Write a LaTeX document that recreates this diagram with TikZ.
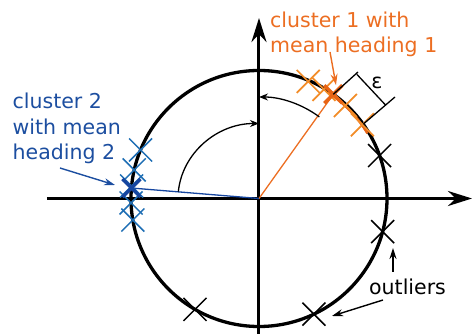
\documentclass[tikz,border=0pt]{standalone}
\usepackage{fontspec}
\setmainfont{DejaVu Sans}
\usetikzlibrary{arrows.meta}
\definecolor{orTxt}{RGB}{236,110,34}
\definecolor{orX}{RGB}{242,140,40}
\definecolor{orMean}{RGB}{232,100,20}
\definecolor{blTxt}{RGB}{28,78,160}
\definecolor{blX}{RGB}{30,110,180}
\definecolor{blMean}{RGB}{22,70,160}
\begin{document}
\begin{tikzpicture}[x=1pt,y=1pt,
  axisline/.style={line width=3pt,-{Stealth[length=24pt,width=15pt]}},
  circ/.style={line width=3.3pt},
  anglearrow/.style={line width=1.3pt,-{Stealth[length=9pt,width=7pt]}},
  callout/.style={line width=1.4pt,-{Stealth[length=11pt,width=7pt]}},
  lbl/.style={font=\fontsize{20.5}{25.7}\selectfont,align=left,inner sep=0pt},
  xm/.pic={\draw[pic actions] (-11.5,-11.5)--(11.5,11.5) (-11.5,11.5)--(11.5,-11.5);},
  xmean/.pic={\draw[pic actions] (-9,-9)--(9,9) (-9,9)--(9,-9);}
]
\useasboundingbox (-259,-135.5) rectangle (215,198.5);
\coordinate (O) at (0,0);
% axes
\coordinate (xl) at (-212,0);
\coordinate (xr) at (213,0);
\coordinate (yb) at (0,-136);
\coordinate (yt) at (0,180.5);
\draw[axisline] (xl) -- (xr);
\draw[axisline] (yb) -- (yt);
% circle
\draw[circ] (O) circle[radius=128];
% orange range arc
\draw[orMean,line width=2.4pt] (57:126.5) arc[start angle=57,end angle=31,radius=126.5];
% mean lines
\coordinate (M1) at (54.5:128);
\coordinate (M2) at (175.3:128);
\draw[orTxt,line width=1.3pt] (O) -- (M1);
\draw[blMean,line width=1.3pt] (O) -- (M2);
% angle arcs
\draw[anglearrow] (53.5:101.5) arc[start angle=53.5,end angle=90,radius=101.5];
\draw[anglearrow] (174.7:81 and 75) arc[start angle=174.7,end angle=90,x radius=81,y radius=75];
% blue crosses
\foreach \a in {157.7,167.1,174.4,182,189.7}
  \pic[blX,line width=1.5pt] at (\a:128) {xm};
\pic[blMean,line width=3.4pt] at (M2) {xmean};
% orange crosses
\foreach \a in {67.2,59.2,47.1,35.5}
  \pic[orX,line width=1.7pt] at (\a:127) {xm};
\pic[orMean,line width=3.4pt] at (M1) {xmean};
% outliers
\foreach \a in {19.6,-15,-64.6,-120}
  \pic[black,line width=1.5pt] at (\a:128) {xm};
% epsilon bracket
\coordinate (F) at (35.5:128);
\coordinate (e1) at (99,126.5);
\coordinate (e2) at (136,101.5);
\coordinate (c1) at (98,124);
\coordinate (c2) at (127,93);
\draw[line width=1.3pt] (M1) -- (e1) (F) -- (e2) (c1) -- (c2);
\node[lbl,anchor=base] (eps) at (118,109.5) {ε};
% labels (base anchor = baseline of last line)
\node[lbl,text=orTxt,anchor=base west] (lab1) at (11,145.5) {cluster 1 with\\mean heading 1};
\node[lbl,text=blTxt,anchor=base west] (lab2) at (-246.5,38.5) {cluster 2\\with mean\\heading 2};
\node[lbl,anchor=base west] (lab3) at (110,-96.5) {outliers};
% callouts
\coordinate (a1s) at (71,146.5);
\coordinate (a1e) at (77,113.5);
\draw[callout,orTxt] (a1s) -- (a1e);
\coordinate (a2s) at (-199,30.5);
\coordinate (a2e) at (-144,13.5);
\draw[callout,blTxt] (a2s) -- (a2e);
\coordinate (a3s) at (134,-73.5);
\coordinate (a3e) at (134,-49.5);
\draw[callout] (a3s) -- (a3e);
\coordinate (a4s) at (124,-101.5);
\coordinate (a4e) at (73,-117.5);
\draw[callout] (a4s) -- (a4e);
\end{tikzpicture}
\end{document}
